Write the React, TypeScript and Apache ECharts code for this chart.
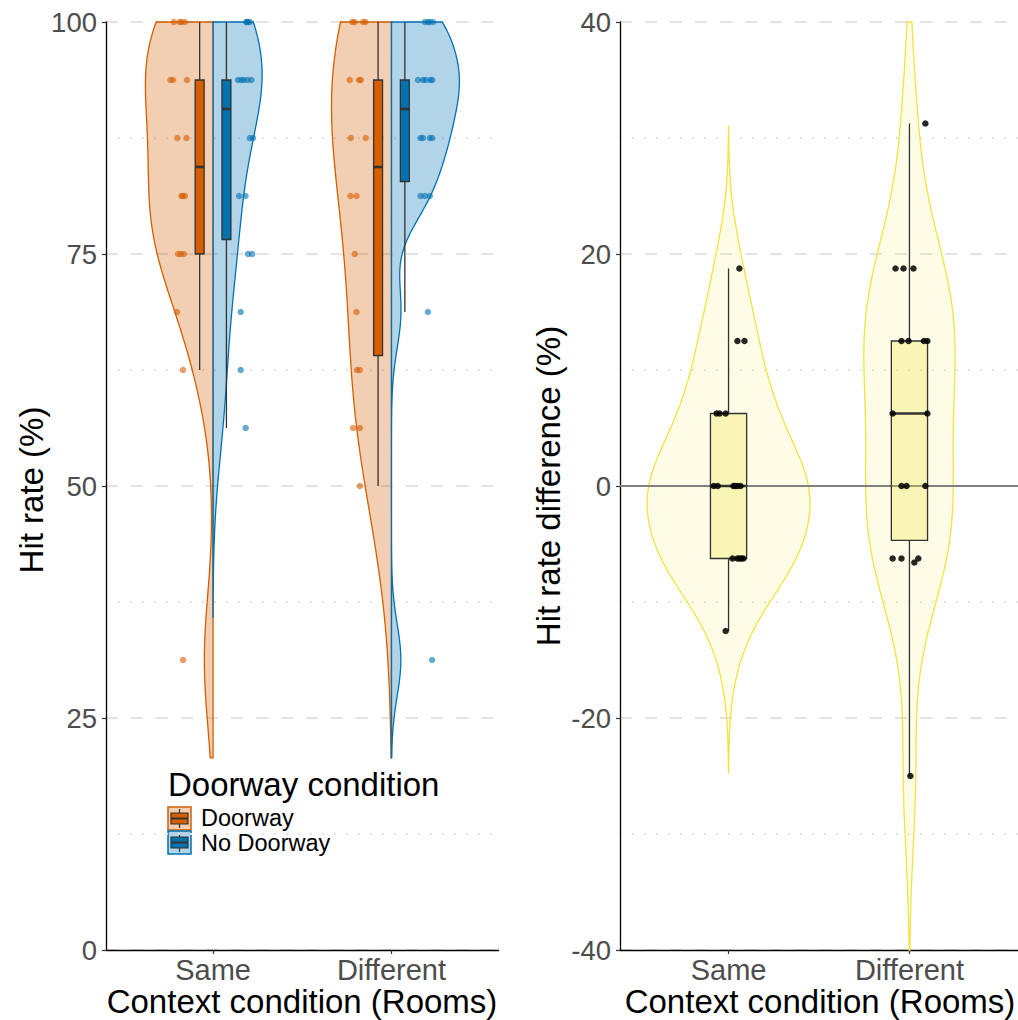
import React, { useEffect, useRef } from "react";
import * as echarts from "echarts";

// ---------------- data ----------------
const contexts = ["Same", "Different"];
const doorwayConditions = ["Doorway", "No Doorway"];
const hitRateTicks = [0, 25, 50, 75, 100];
const diffTicks = [-40, -20, 0, 20, 40];

// Hit rates (%) per participant, with horizontal jitter (category units)
const sameDoorway = [100, 100, 100, 100, 93.75, 93.75, 93.75, 87.5, 87.5, 81.25, 81.25, 81.25, 75, 75, 75, 68.75, 62.5, 31.25];
const sameDoorwayJitter = [-0.22, -0.187, -0.177, -0.158, -0.239, -0.224, -0.146, -0.2, -0.149, -0.177, -0.158, -0.17, -0.196, -0.181, -0.164, -0.202, -0.168, -0.168];
const sameNoDoorway = [100, 100, 100, 100, 93.75, 93.75, 93.75, 93.75, 93.75, 87.5, 87.5, 81.25, 81.25, 75, 75, 68.75, 62.5, 56.25];
const sameNoDoorwayJitter = [0.187, 0.196, 0.206, 0.189, 0.14, 0.159, 0.172, 0.193, 0.215, 0.206, 0.224, 0.146, 0.182, 0.196, 0.219, 0.155, 0.155, 0.183];
const differentDoorway = [100, 100, 100, 100, 93.75, 93.75, 93.75, 87.5, 87.5, 81.25, 81.25, 75, 68.75, 62.5, 62.5, 56.25, 56.25, 50];
const differentDoorwayJitter = [-0.219, -0.206, -0.159, -0.146, -0.234, -0.182, -0.172, -0.228, -0.144, -0.23, -0.196, -0.206, -0.196, -0.193, -0.177, -0.215, -0.177, -0.177];
const differentNoDoorway = [100, 100, 100, 100, 93.75, 93.75, 93.75, 93.75, 93.75, 87.5, 87.5, 87.5, 87.5, 81.25, 81.25, 81.25, 68.75, 31.25];
const differentNoDoorwayJitter = [0.187, 0.233, 0.204, 0.215, 0.149, 0.177, 0.192, 0.218, 0.229, 0.163, 0.177, 0.215, 0.229, 0.163, 0.215, 0.187, 0.204, 0.228];

// Hit rate difference (%) per participant
const diffSame = [18.75, 12.5, 12.5, 6.25, 6.25, 6.25, 0, 0, 0, 0, 0, 0, -6.25, -6.25, -6.25, -6.25, -6.25, -12.5];
const diffSameJitter = [0.06, 0.049, 0.088, -0.066, -0.016, -0.049, -0.082, -0.06, 0.027, 0.049, 0.066, 0.038, 0.022, 0.049, 0.071, 0.082, 0.06, -0.016];
const diffDifferent = [31.25, 18.75, 18.75, 18.75, 12.5, 12.5, 12.5, 12.5, 6.25, 6.25, 0, 0, 0, -6.25, -6.25, -6.25, -6.6, -25];
const diffDifferentJitter = [0.088, -0.077, -0.033, 0.022, -0.044, -0.005, 0.099, 0.08, -0.093, 0.099, -0.044, -0.016, 0.088, -0.093, -0.044, 0.049, 0.027, 0.005];

// ---------------- styling ----------------
const ORANGE = "#D55E00";
const BLUE = "#0072B2";
const YELLOW = "#F0E442";
const FONT = '"Liberation Sans", Arial, Helvetica, sans-serif';
const LEFT_VIOLIN_FLOOR = 20.7;

// ---------------- stats helpers ----------------
const sortAsc = (a: number[]) => [...a].sort((x, y) => x - y);
function q7(s: number[], p: number) {
  const h = (s.length - 1) * p;
  const i = Math.floor(h);
  const f = h - i;
  return i + 1 < s.length ? s[i] + f * (s[i + 1] - s[i]) : s[i];
}
function boxStats(v: number[]) {
  const s = sortAsc(v);
  const q1 = q7(s, 0.25), med = q7(s, 0.5), q3 = q7(s, 0.75);
  const r = 1.5 * (q3 - q1);
  const inside = s.filter((x) => x >= q1 - r && x <= q3 + r);
  return { lo: inside[0], q1, med, q3, hi: inside[inside.length - 1] };
}
function bwNrd0(v: number[]) {
  const s = sortAsc(v);
  const n = s.length;
  const m = s.reduce((a, b) => a + b, 0) / n;
  const sd = Math.sqrt(s.reduce((a, b) => a + (b - m) * (b - m), 0) / (n - 1));
  const iqr = (q7(s, 0.75) - q7(s, 0.25)) / 1.34;
  const lo = Math.min(sd, iqr) || sd || 1;
  return 0.9 * lo * Math.pow(n, -0.2);
}
function density(v: number[], bw: number, lo: number, hi: number, steps = 240) {
  const out: number[][] = [];
  const k = 1 / (v.length * bw * Math.sqrt(2 * Math.PI));
  for (let i = 0; i <= steps; i++) {
    const y = lo + ((hi - lo) * i) / steps;
    let d = 0;
    for (const x of v) {
      const z = (y - x) / bw;
      d += Math.exp(-0.5 * z * z);
    }
    out.push([y, d * k]);
  }
  return out;
}
function violinProfile(v: number[], floor: number, ceil: number, adjust = 1) {
  const bw = bwNrd0(v) * adjust;
  const lo = Math.max(Math.min(...v) - 3 * bw, floor);
  const hi = Math.min(Math.max(...v) + 3 * bw, ceil);
  return density(v, bw, lo, hi);
}

type Violin = { profile: number[][]; center: number; side: number; color: string; fill: string };

function buildLeft() {
  const groups = [
    { v: sameDoorway, c: 1, side: -1, color: ORANGE, maxHalf: 0.379, adjust: 1 },
    { v: sameNoDoorway, c: 1, side: 1, color: BLUE, maxHalf: 0.275, adjust: 1.05 },
    { v: differentDoorway, c: 2, side: -1, color: ORANGE, maxHalf: 0.336, adjust: 1.38 },
    { v: differentNoDoorway, c: 2, side: 1, color: BLUE, maxHalf: 0.381, adjust: 0.95 },
  ];
  return groups.map((g) => {
    const p = violinProfile(g.v, LEFT_VIOLIN_FLOOR, 100, g.adjust);
    const m = Math.max(...p.map((d) => d[1]));
    return {
      profile: p.map(([y, d]) => [y, (g.maxHalf * d) / m]),
      center: g.c,
      side: g.side,
      color: g.color,
      fill: g.color === ORANGE ? "rgba(213,94,0,0.3)" : "rgba(0,114,178,0.3)",
    } as Violin;
  });
}
function buildRight() {
  const groups = [
    { v: diffSame, c: 1 },
    { v: diffDifferent, c: 2 },
  ];
  const profs = groups.map((g) => violinProfile(g.v, -40, 40));
  const m = Math.max(...profs.flat().map((d) => d[1]));
  return groups.map((g, i) => ({
    profile: profs[i].map(([y, d]) => [y, (0.45 * d) / m]),
    center: g.c,
    side: 0,
    color: YELLOW,
    fill: "rgba(240,228,66,0.13)",
  })) as Violin[];
}

function violinRender(list: Violin[]) {
  return (params: any, api: any) => {
    const v = list[params.dataIndex];
    const pts: number[][] = [];
    const P = v.profile;
    if (v.side === 0) {
      for (const [y, w] of P) pts.push(api.coord([v.center - w, y]));
      for (let i = P.length - 1; i >= 0; i--) pts.push(api.coord([v.center + P[i][1], P[i][0]]));
    } else {
      pts.push(api.coord([v.center, P[0][0]]));
      for (const [y, w] of P) pts.push(api.coord([v.center + v.side * w, y]));
      pts.push(api.coord([v.center, P[P.length - 1][0]]));
    }
    return {
      type: "polygon",
      shape: { points: pts },
      style: { fill: v.fill, stroke: v.color, lineWidth: 1.3 },
    };
  };
}

type Box = { lo: number; q1: number; med: number; q3: number; hi: number; center: number; width: number; fill: string };
function boxRender(list: Box[]) {
  return (params: any, api: any) => {
    const b = list[params.dataIndex];
    const tl = api.coord([b.center - b.width / 2, b.q3]);
    const br = api.coord([b.center + b.width / 2, b.q1]);
    const m0 = api.coord([b.center - b.width / 2, b.med]);
    const m1 = api.coord([b.center + b.width / 2, b.med]);
    const top = api.coord([b.center, b.hi]);
    const q3p = api.coord([b.center, b.q3]);
    const q1p = api.coord([b.center, b.q1]);
    const bot = api.coord([b.center, b.lo]);
    const st = { stroke: "#333333", lineWidth: 1.3 };
    return {
      type: "group",
      children: [
        { type: "line", shape: { x1: top[0], y1: top[1], x2: q3p[0], y2: q3p[1] }, style: st },
        { type: "line", shape: { x1: q1p[0], y1: q1p[1], x2: bot[0], y2: bot[1] }, style: st },
        {
          type: "rect",
          shape: { x: tl[0], y: tl[1], width: br[0] - tl[0], height: br[1] - tl[1] },
          style: { fill: b.fill, stroke: "#333333", lineWidth: 1.3 },
        },
        { type: "line", shape: { x1: m0[0], y1: m0[1], x2: m1[0], y2: m1[1] }, style: { stroke: "#333333", lineWidth: 2.6 } },
      ],
    };
  };
}

function pts(vals: number[], jit: number[], c: number) {
  return vals.map((v, i) => [c + jit[i], v]);
}

const majorSplit = { show: true, lineStyle: { color: "#E3E3E3", width: 2, type: [12, 13] as any } };
const minorSplit = { show: true, lineStyle: { color: "#E3E3E3", width: 2, type: [2, 10] as any } };

function xAxisDef(gridIndex: number) {
  return {
    type: "value",
    gridIndex,
    min: 0.4,
    max: 2.6,
    axisLine: { show: true, onZero: false, lineStyle: { color: "#000", width: 1.3 } },
    axisTick: { show: true, customValues: [1, 2], length: 4, lineStyle: { color: "#333", width: 1.2 } },
    axisLabel: {
      show: true,
      customValues: [1, 2],
      formatter: (v: number) => contexts[Math.round(v) - 1] ?? "",
      fontSize: 29,
      color: "#4D4D4D",
      fontFamily: FONT,
      margin: 5,
    },
    splitLine: { show: false },
  };
}
function yAxisDef(gridIndex: number, ticks: number[]) {
  return {
    type: "value",
    gridIndex,
    min: ticks[0],
    max: ticks[ticks.length - 1],
    interval: ticks[1] - ticks[0],
    axisLine: { show: true, onZero: false, lineStyle: { color: "#000", width: 1.3 } },
    axisTick: { show: true, length: 4, lineStyle: { color: "#333", width: 1.2 } },
    axisLabel: { fontSize: 27.5, color: "#4D4D4D", fontFamily: FONT, margin: 9 },
    splitLine: majorSplit,
    minorTick: { show: false, splitNumber: 2 },
    minorSplitLine: minorSplit,
  };
}

function legendKey(x: number, y: number, color: string, light: string) {
  return {
    type: "group",
    x,
    y,
    children: [
      { type: "rect", shape: { x: 0, y: 0, width: 23, height: 23 }, style: { fill: light, stroke: color, lineWidth: 1.5 } },
      { type: "line", shape: { x1: 11.5, y1: 2, x2: 11.5, y2: 6 }, style: { stroke: "#333", lineWidth: 1.2 } },
      { type: "line", shape: { x1: 11.5, y1: 17, x2: 11.5, y2: 21 }, style: { stroke: "#333", lineWidth: 1.2 } },
      { type: "rect", shape: { x: 3, y: 6, width: 17, height: 11 }, style: { fill: color, stroke: "#333", lineWidth: 1.2 } },
      { type: "line", shape: { x1: 3, y1: 11.5, x2: 20, y2: 11.5 }, style: { stroke: "#333", lineWidth: 2 } },
    ],
  };
}

export default function App() {
  const ref = useRef<HTMLDivElement>(null);
  useEffect(() => {
    if (!ref.current) return;
    const chart = echarts.init(ref.current, undefined, { renderer: "svg" });
    const leftViolins = buildLeft();
    const rightViolins = buildRight();
    const leftBoxes: Box[] = [
      { ...boxStats(sameDoorway), center: 1 - 0.075, width: 0.05, fill: ORANGE },
      { ...boxStats(sameNoDoorway), center: 1 + 0.075, width: 0.05, fill: BLUE },
      { ...boxStats(differentDoorway), center: 2 - 0.075, width: 0.05, fill: ORANGE },
      { ...boxStats(differentNoDoorway), center: 2 + 0.075, width: 0.05, fill: BLUE },
    ];
    const rightBoxes: Box[] = [
      { ...boxStats(diffSame), center: 1, width: 0.2, fill: "rgba(240,228,66,0.3)" },
      { ...boxStats(diffDifferent), center: 2, width: 0.2, fill: "rgba(240,228,66,0.3)" },
    ];
    const textStyle = (size: number, lh?: number) => ({ fontSize: size, fontFamily: FONT, fill: "#000", ...(lh ? { lineHeight: lh } : {}) });

    chart.setOption({
      animation: false,
      grid: [
        { left: 106, top: 22, width: 392.5, height: 928 },
        { left: 620, top: 22, width: 400.4, height: 928 },
      ],
      xAxis: [xAxisDef(0), xAxisDef(1)],
      yAxis: [yAxisDef(0, hitRateTicks), yAxisDef(1, diffTicks)],
      series: [
        {
          type: "custom",
          name: "violins-left",
          xAxisIndex: 0,
          yAxisIndex: 0,
          renderItem: violinRender(leftViolins),
          data: leftViolins.map((v) => [v.center, v.profile[0][0]]),
          z: 2,
          silent: true,
        },
        {
          type: "custom",
          name: "boxes-left",
          xAxisIndex: 0,
          yAxisIndex: 0,
          renderItem: boxRender(leftBoxes),
          data: leftBoxes.map((b) => [b.center, b.med]),
          z: 3,
          silent: true,
        },
        {
          type: "scatter",
          name: doorwayConditions[0],
          xAxisIndex: 0,
          yAxisIndex: 0,
          symbolSize: 6.5,
          itemStyle: { color: ORANGE, opacity: 0.6 },
          data: [...pts(sameDoorway, sameDoorwayJitter, 1), ...pts(differentDoorway, differentDoorwayJitter, 2)],
          z: 4,
        },
        {
          type: "scatter",
          name: doorwayConditions[1],
          xAxisIndex: 0,
          yAxisIndex: 0,
          symbolSize: 6.5,
          itemStyle: { color: BLUE, opacity: 0.6 },
          data: [...pts(sameNoDoorway, sameNoDoorwayJitter, 1), ...pts(differentNoDoorway, differentNoDoorwayJitter, 2)],
          z: 4,
        },
        {
          type: "custom",
          name: "violins-right",
          xAxisIndex: 1,
          yAxisIndex: 1,
          renderItem: violinRender(rightViolins),
          data: rightViolins.map((v) => [v.center, v.profile[0][0]]),
          z: 2,
          silent: true,
        },
        {
          type: "line",
          name: "zero",
          xAxisIndex: 1,
          yAxisIndex: 1,
          data: [
            [0.4, 0],
            [2.6, 0],
          ],
          symbol: "none",
          lineStyle: { color: "#808080", width: 1.8 },
          z: 2.5,
          silent: true,
        },
        {
          type: "custom",
          name: "boxes-right",
          xAxisIndex: 1,
          yAxisIndex: 1,
          renderItem: boxRender(rightBoxes),
          data: rightBoxes.map((b) => [b.center, b.med]),
          z: 3,
          silent: true,
        },
        {
          type: "scatter",
          name: "difference",
          xAxisIndex: 1,
          yAxisIndex: 1,
          symbolSize: 6.5,
          itemStyle: { color: "#000", opacity: 0.85 },
          data: [...pts(diffSame, diffSameJitter, 1), ...pts(diffDifferent, diffDifferentJitter, 2)],
          z: 4,
        },
      ],
      graphic: [
        { type: "text", x: 302, y: 1001, style: { text: "Context condition (Rooms)", align: "center", verticalAlign: "middle", ...textStyle(33) } },
        { type: "text", x: 820, y: 1001, style: { text: "Context condition (Rooms)", align: "center", verticalAlign: "middle", ...textStyle(33) } },
        { type: "text", x: 31, y: 490, rotation: Math.PI / 2, style: { text: "Hit rate (%)", align: "center", verticalAlign: "middle", ...textStyle(33) } },
        { type: "text", x: 548, y: 486, rotation: Math.PI / 2, style: { text: "Hit rate difference (%)", align: "center", verticalAlign: "middle", ...textStyle(33) } },
        { type: "text", x: 168, y: 784, style: { text: "Doorway condition", align: "left", verticalAlign: "middle", ...textStyle(33, 33) } },
        legendKey(168, 807, ORANGE, "rgba(213,94,0,0.3)"),
        legendKey(168, 831, BLUE, "rgba(0,114,178,0.3)"),
        { type: "text", x: 201, y: 818, style: { text: doorwayConditions[0], align: "left", verticalAlign: "middle", ...textStyle(23.5, 21) } },
        { type: "text", x: 201, y: 843, style: { text: doorwayConditions[1], align: "left", verticalAlign: "middle", ...textStyle(23.5, 21) } },
      ],
    });
    return () => chart.dispose();
  }, []);
  return <div ref={ref} style={{ position: "fixed", left: 0, top: 0, width: 1018, height: 1020, background: "#fff" }} />;
}
